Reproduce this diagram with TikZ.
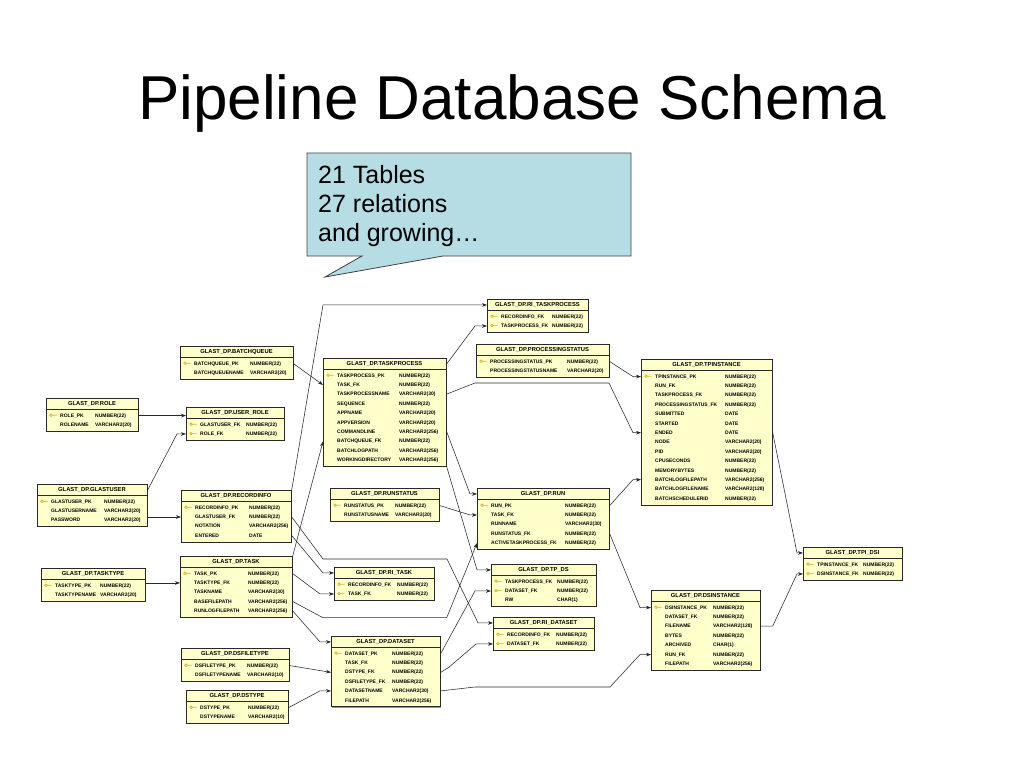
\documentclass[tikz,border=0pt]{standalone}
\usepackage{fontspec}
\setmainfont{Liberation Sans}
\usepackage{tikz}
\usetikzlibrary{arrows.meta, calc, positioning}

\definecolor{tabfill}{RGB}{255, 255, 204}
\definecolor{keygold}{RGB}{214, 178, 40}
\definecolor{noteblue}{RGB}{183, 221, 228}
\definecolor{linegray}{RGB}{40, 40, 40}

\tikzset{
  tablebox/.style={draw=linegray, fill=tabfill, line width=0.7pt, inner sep=0pt},
  tabshadow/.style={fill=black!40},
  tabline/.style={draw=linegray, line width=0.6pt},
  tabtitle/.style={font=\fontsize{5.8}{6}\selectfont\bfseries, inner sep=0pt, anchor=base},
  colname/.style={font=\fontsize{5.0}{6}\selectfont\bfseries, inner sep=0pt, anchor=base west},
  coltype/.style={colname},
  keymark/.style={draw=keygold, line width=0.7pt},
  relation/.style={draw=linegray, line width=0.55pt, -{Stealth[length=5pt,width=3.6pt]}},
  notebox/.style={draw=black!75, fill=noteblue, line width=0.8pt}
}

% table: name, left, top, width, type column, rows, title, key/column/type list
\newcommand{\dbtable}[8]{%
  \pgfmathsetmacro{\tabh}{14+9.4*#6}
  \fill[tabshadow] (#2+1.2,#3+1.2) rectangle ++(#4,\tabh);
  \node[tablebox, minimum width=#4pt, minimum height=\tabh pt, anchor=north west] (#1) at (#2,#3) {};
  \node[tabtitle] (#1-title) at (#2+#4/2,#3+7.6) {#7};
  \draw[tabline] (#2,#3+11) -- (#2+#4,#3+11);
  \foreach \iskey/\cname/\ctype [count=\rw] in {#8} {
    \pgfmathsetmacro{\ry}{#3+7.8+9.4*\rw}
    \node[colname] (#1-\rw) at (#2+14,\ry+1.8) {\cname};
    \node[coltype] at (#2+#5,\ry+1.8) {\ctype};
    \ifnum\iskey=1 \draw[keymark] (#2+5,\ry) circle (1.3pt) (#2+6.3,\ry) -- (#2+10.5,\ry); \fi
  }
}

\begin{document}
\begin{tikzpicture}[x=1pt, y=-1pt]
  \useasboundingbox (0,0) rectangle (1024,768);
  \fill[white] (0,0) rectangle (1024,768);

  % Title
  \node[font=\fontsize{62}{70}\selectfont, anchor=base, inner sep=0pt] (title) at (512,119) {Pipeline Database Schema};

  % Callout
  \draw[notebox] (307,153) -- (631,153) -- (631,256) -- (443,256) -- (325,277) -- (362,256) -- (307,256) -- cycle;
  \node[font=\fontsize{25}{29}\selectfont, align=left, anchor=north west, inner sep=0pt] (note) at (318,165) {21 Tables\\27 relations\\and growing…};

  % Left column
  \dbtable{role}{46}{398}{92}{49}{2}{GLAST\_DP.ROLE}{1/ROLE\_PK/NUMBER(22), 0/ROLENAME/VARCHAR2(20)}
  \dbtable{glastuser}{37}{484}{110}{67}{3}{GLAST\_DP.GLASTUSER}{1/GLASTUSER\_PK/NUMBER(22), 0/GLASTUSERNAME/VARCHAR2(20), 0/PASSWORD/VARCHAR2(20)}
  \dbtable{tasktype}{41}{568}{104}{59}{2}{GLAST\_DP.TASKTYPE}{1/TASKTYPE\_PK/NUMBER(22), 0/TASKTYPENAME/VARCHAR2(20)}

  % Second column
  \dbtable{batchqueue}{180}{346}{113}{70}{2}{GLAST\_DP.BATCHQUEUE}{1/BATCHQUEUE\_PK/NUMBER(22), 0/BATCHQUEUENAME/VARCHAR2(20)}
  \dbtable{userrole}{186}{407}{98}{60}{2}{GLAST\_DP.USER\_ROLE}{1/GLASTUSER\_FK/NUMBER(22), 1/ROLE\_FK/NUMBER(22)}
  \dbtable{recordinfo}{181}{490}{110}{68}{4}{GLAST\_DP.RECORDINFO}{1/RECORDINFO\_PK/NUMBER(22), 0/GLASTUSER\_FK/NUMBER(22), 0/NOTATION/VARCHAR2(256), 0/ENTERED/DATE}
  \dbtable{task}{180}{556}{112}{68}{5}{GLAST\_DP.TASK}{1/TASK\_PK/NUMBER(22), 0/TASKTYPE\_FK/NUMBER(22), 0/TASKNAME/VARCHAR2(30), 0/BASEFILEPATH/VARCHAR2(256), 0/RUNLOGFILEPATH/VARCHAR2(256)}
  \dbtable{dsfiletype}{181}{648}{108}{66}{2}{GLAST\_DP.DSFILETYPE}{1/DSFILETYPE\_PK/NUMBER(22), 0/DSFILETYPENAME/VARCHAR2(10)}
  \dbtable{dstype}{186}{690}{102}{62}{2}{GLAST\_DP.DSTYPE}{1/DSTYPE\_PK/NUMBER(22), 0/DSTYPENAME/VARCHAR2(10)}

  % Third column
  \dbtable{taskprocess}{323}{358}{123}{76}{10}{GLAST\_DP.TASKPROCESS}{1/TASKPROCESS\_PK/NUMBER(22), 0/TASK\_FK/NUMBER(22), 0/TASKPROCESSNAME/VARCHAR2(30), 0/SEQUENCE/NUMBER(22), 0/APPNAME/VARCHAR2(20), 0/APPVERSION/VARCHAR2(20), 0/COMMANDLINE/VARCHAR2(256), 0/BATCHQUEUE\_FK/NUMBER(22), 0/BATCHLOGPATH/VARCHAR2(256), 0/WORKINGDIRECTORY/VARCHAR2(256)}
  \dbtable{runstatus}{330}{488}{109}{65}{2}{GLAST\_DP.RUNSTATUS}{1/RUNSTATUS\_PK/NUMBER(22), 0/RUNSTATUSNAME/VARCHAR2(20)}
  \dbtable{ritask}{334}{567}{100}{63}{2}{GLAST\_DP.RI\_TASK}{1/RECORDINFO\_FK/NUMBER(22), 1/TASK\_FK/NUMBER(22)}
  \dbtable{dataset}{331}{636}{109}{61}{6}{GLAST\_DP.DATASET}{1/DATASET\_PK/NUMBER(22), 0/TASK\_FK/NUMBER(22), 0/DSTYPE\_FK/NUMBER(22), 0/DSFILETYPE\_FK/NUMBER(22), 0/DATASETNAME/VARCHAR2(30), 0/FILEPATH/VARCHAR2(256)}

  % Fourth column
  \dbtable{ritaskprocess}{487}{299}{101}{65}{2}{GLAST\_DP.RI\_TASKPROCESS}{1/RECORDINFO\_FK/NUMBER(22), 1/TASKPROCESS\_FK/NUMBER(22)}
  \dbtable{procstatus}{476}{344}{133}{91}{2}{GLAST\_DP.PROCESSINGSTATUS}{1/PROCESSINGSTATUS\_PK/NUMBER(22), 0/PROCESSINGSTATUSNAME/VARCHAR2(20)}
  \dbtable{run}{477}{488}{132}{88}{5}{GLAST\_DP.RUN}{1/RUN\_PK/NUMBER(22), 0/TASK\_FK/NUMBER(22), 0/RUNNAME/VARCHAR2(30), 0/RUNSTATUS\_FK/NUMBER(22), 0/ACTIVETASKPROCESS\_FK/NUMBER(22)}
  \dbtable{tpds}{491}{564}{105}{66}{3}{GLAST\_DP.TP\_DS}{1/TASKPROCESS\_FK/NUMBER(22), 1/DATASET\_FK/NUMBER(22), 0/RW/CHAR(1)}
  \dbtable{ridataset}{493}{617}{101}{63}{2}{GLAST\_DP.RI\_DATASET}{1/RECORDINFO\_FK/NUMBER(22), 1/DATASET\_FK/NUMBER(22)}

  % Right side
  \dbtable{tpinstance}{641}{359}{131}{84}{14}{GLAST\_DP.TPINSTANCE}{1/TPINSTANCE\_PK/NUMBER(22), 0/RUN\_FK/NUMBER(22), 0/TASKPROCESS\_FK/NUMBER(22), 0/PROCESSINGSTATUS\_FK/NUMBER(22), 0/SUBMITTED/DATE, 0/STARTED/DATE, 0/ENDED/DATE, 0/NODE/VARCHAR2(20), 0/PID/VARCHAR2(20), 0/CPUSECONDS/NUMBER(22), 0/MEMORYBYTES/NUMBER(22), 0/BATCHLOGFILEPATH/VARCHAR2(256), 0/BATCHLOGFILENAME/VARCHAR2(128), 0/BATCHSCHEDULERID/NUMBER(22)}
  \dbtable{dsinstance}{651}{590}{109}{62}{7}{GLAST\_DP.DSINSTANCE}{1/DSINSTANCE\_PK/NUMBER(22), 0/DATASET\_FK/NUMBER(22), 0/FILENAME/VARCHAR2(128), 0/BYTES/NUMBER(22), 0/ARCHIVED/CHAR(1), 0/RUN\_FK/NUMBER(22), 0/FILEPATH/VARCHAR2(256)}
  \dbtable{tpidsi}{803}{547}{99}{60}{2}{GLAST\_DP.TPI\_DSI}{1/TPINSTANCE\_FK/NUMBER(22), 1/DSINSTANCE\_FK/NUMBER(22)}

  % Relations: users and roles
  \draw[relation] (role.east |- role-1) -- (role-1 -| userrole.west);
  \draw[relation] (glastuser.east |- glastuser-title) -- ($(userrole.west |- userrole-2)+(-9,0)$) -- (userrole.west |- userrole-2);
  \draw[relation] (glastuser.east |- recordinfo-2) -- (recordinfo.west |- recordinfo-2);
  \draw[relation] (tasktype.east |- task-2) -- (task.west |- task-2);

  % Relations: task process
  \draw[relation] (task.north east) -- (taskprocess.west |- taskprocess-8);
  \draw[relation] (batchqueue.east |- batchqueue-1) -- (taskprocess.west |- taskprocess-2);
  \draw[relation] (recordinfo.north east) -- (taskprocess.west |- ritaskprocess-title) -- (ritaskprocess.west |- ritaskprocess-title);
  \draw[relation] (taskprocess.east |- taskprocess-title) -- ($(ritaskprocess.west |- ritaskprocess-2)+(-12,0)$) -- (ritaskprocess.west |- ritaskprocess-2);

  % Relations: ri_task and dataset
  \draw[relation] (recordinfo.east |- recordinfo-4) -- ($(ritask.west |- ritask-title)+(-11,0)$) -- (ritask.west |- ritask-title);
  \draw[relation] (task.east |- task-1) -- ($(ritask.west |- ritask-2)+(-14,0)$) -- (ritask.west |- ritask-2);
  \draw[relation] (task.east |- task-5) -- ($(dataset.west |- dataset-title)+(-11,0)$) -- (dataset.west |- dataset-title);
  \draw[relation] (dsfiletype.east |- dsfiletype-1) -- (dataset.west |- dataset-3);
  \draw[relation] (dstype.east |- dstype-1) -- ($(dataset.west |- dataset-5)+(-11,0)$) -- (dataset.west |- dataset-5);

  % Relations: run
  \draw[relation] (task.east |- task-4) -- (taskprocess.west |- task.south) -- (taskprocess.east |- task.south) -- (run.west |- run-5);
  \draw[relation] (runstatus.east |- runstatus-1) -- ($(run.west |- run-2)+(-7,0)$) -- (run.west |- run-2);
  \draw[relation] (taskprocess.east |- taskprocess-7) -- ($(run.west |- run-title)+(-7,0)$) -- (run.west |- run-title);

  % Relations: tp_ds and ri_dataset
  \draw[relation] (taskprocess.south east) -- ($(tpds.west |- tpds-title)+(-14,0)$) -- (tpds.west |- tpds-title);
  \draw[relation] (dataset.east |- dataset-1) -- ($(tpds.west |- tpds-2)+(-16,0)$) -- (tpds.west |- tpds-2);
  \draw[relation] (recordinfo.east |- recordinfo-2) -- (323,559) -- (447,559) -- ($(ridataset.west |- ridataset-title)+(-15,0)$) -- (ridataset.west |- ridataset-title);
  \draw[relation] (dataset.east |- dataset-3) -- ++(8,-5) -- ($(ridataset.west |- ridataset-2)+(-17,0)$) -- (ridataset.west |- ridataset-2);

  % Relations: tpinstance
  \draw[relation] (procstatus.east |- procstatus-1) -- ($(tpinstance.west |- tpinstance-1)+(-8,0)$) -- (tpinstance.west |- tpinstance-1);
  \draw[relation] (taskprocess.east |- taskprocess-3) -- (475,383) -- (609,383) -- ($(tpinstance.west |- tpinstance-7)+(-8,0)$) -- (tpinstance.west |- tpinstance-7);
  \draw[relation] (run.east |- run-1) -- ($(tpinstance.west |- tpinstance-12)+(-8,0)$) -- (tpinstance.west |- tpinstance-12);

  % Relations: dsinstance
  \draw[relation] (dataset.east |- dataset-5) -- (475,687) -- (610,687) -- ($(dsinstance.west |- dsinstance-6)+(-11,0)$) -- (dsinstance.west |- dsinstance-6);
  \draw[relation] (run.east |- run-4) -- ($(dsinstance.west |- dsinstance-1)+(-11,0)$) -- (dsinstance.west |- dsinstance-1);

  % Relations: tpi_dsi
  \draw[relation] (tpinstance.east |- tpinstance-7) -- ($(tpidsi.west |- tpidsi-title)+(-6,0)$) -- (tpidsi.west |- tpidsi-title);
  \draw[relation] (dsinstance.east |- dsinstance-3) -- ++(12,0) -- ($(tpidsi.west |- tpidsi-2)+(-6,0)$) -- (tpidsi.west |- tpidsi-2);
\end{tikzpicture}
\end{document}
